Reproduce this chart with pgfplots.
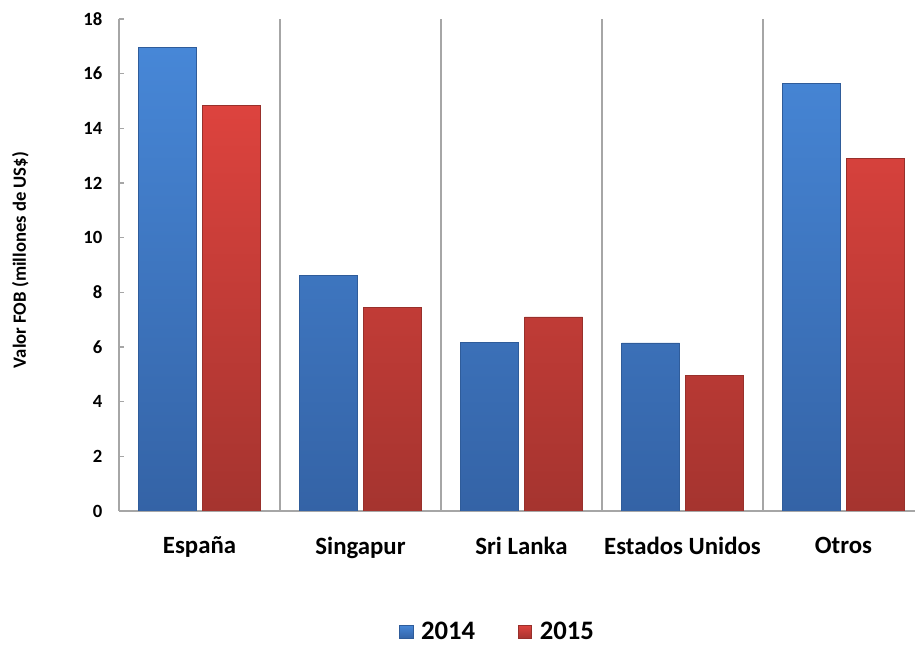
\documentclass[border=0pt]{standalone}
\usepackage{fontspec}
\setmainfont{Carlito}
\usepackage{pgfplots}
\pgfplotsset{compat=1.18}

\definecolor{blueTop}{HTML}{4787D7}
\definecolor{blueBot}{HTML}{3463A6}
\definecolor{blueEdge}{HTML}{2F5C9A}
\definecolor{redTop}{HTML}{DD433E}
\definecolor{redBot}{HTML}{A5342F}
\definecolor{redEdge}{HTML}{98302B}
\definecolor{axisgray}{HTML}{A6A6A6}

\begin{document}
\begin{tikzpicture}[x=0.75pt,y=0.75pt]
\useasboundingbox (-119,-135) rectangle (796,511);
\begin{axis}[
    at={(0,0)}, anchor=south west,
    scale only axis,
    width=597pt, height=369pt,
    ybar=4.5pt, bar width=43.5pt,
    xmin=-0.5, xmax=4.444,
    ymin=0, ymax=18,
    ytick={0,2,...,18},
    xtick={0,1,2,3,4},
    xticklabels={España, Singapur, Sri Lanka, Estados Unidos, Otros},
    minor xtick={0.5,1.5,2.5,3.5},
    xminorgrids=true,
    minor grid style={axisgray, line width=0.8pt},
    axis lines*=left,
    axis line style={axisgray, line width=0.8pt},
    major x tick style={draw=none},
    minor x tick style={axisgray, line width=0.8pt},
    y tick style={axisgray, line width=0.8pt},
    tick align=inside,
    major tick length=3.75pt,
    minor tick length=0pt,
    /pgf/number format/assume math mode=true,
    yticklabel style={font=\fontsize{14}{16}\selectfont\bfseries, xshift=-9pt},
    xticklabel style={font=\fontsize{18.6}{20}\selectfont\bfseries, yshift=-16pt},
    ylabel={Valor FOB (millones de US\$)},
    every axis y label/.style={at={(axis description cs:-0.124,0.51)}, rotate=90, anchor=center,
        font=\fontsize{14}{16}\selectfont\bfseries},
    legend style={
        at={(axis description cs:0.476,-0.246)}, anchor=center,
        draw=none, fill=none,
        font=\fontsize{20}{22}\selectfont\bfseries,
        legend columns=2,
        /tikz/every odd column/.append style={column sep=4pt},
        /tikz/every even column/.append style={column sep=30pt},
    },
    legend image code/.code={
        \path[#1] (0pt,-5pt) rectangle (10pt,5pt);
    },
]
\addplot[top color=blueTop, bottom color=blueBot, draw=blueEdge, line width=0.4pt]
    coordinates {(0,16.95) (1,8.63) (2,6.18) (3,6.15) (4,15.65)};
\addplot[top color=redTop, bottom color=redBot, draw=redEdge, line width=0.4pt]
    coordinates {(0,14.85) (1,7.45) (2,7.10) (3,4.95) (4,12.90)};
\legend{2014, 2015}
\end{axis}
\end{tikzpicture}
\end{document}
